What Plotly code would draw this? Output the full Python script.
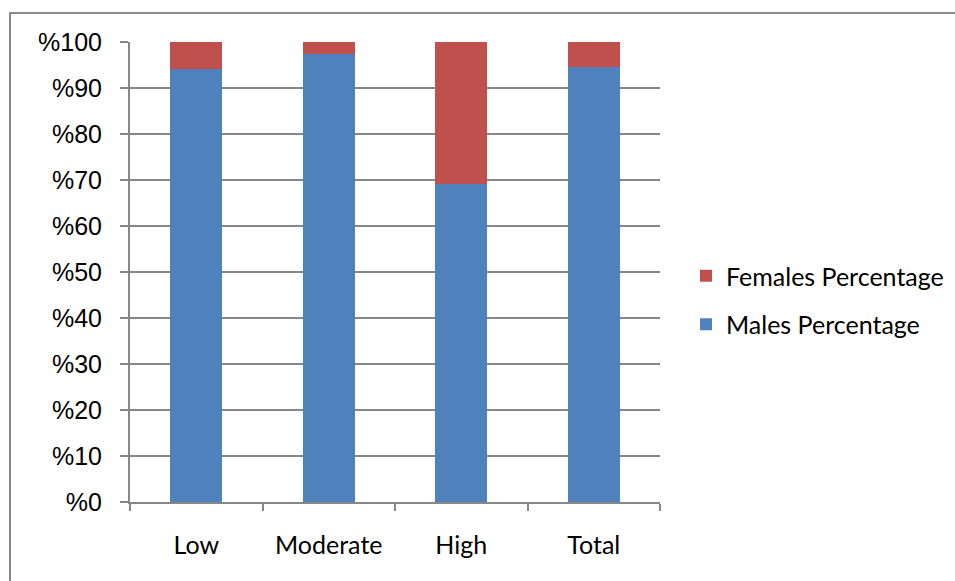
import plotly.graph_objects as go

# Stacked share of males and females per level
categories = ["Low", "Moderate", "High", "Total"]
males_pct = [94.1, 97.3, 69.1, 94.5]
females_pct = [5.9, 2.7, 30.9, 5.5]
y_ticks = [0, 10, 20, 30, 40, 50, 60, 70, 80, 90, 100]
y_tick_labels = ["%" + str(v) for v in y_ticks]

BLUE = "#4F81BD"
RED = "#C0504D"
GREY = "#878787"

W, H = 955, 581
L, T, B = 130, 42, 79
plot_right = 660
pw, ph = W - L, H - T - B  # paper spans from the left margin to the right edge

fig = go.Figure()
fig.add_trace(go.Bar(x=categories, y=males_pct, name="Males Percentage",
                     marker=dict(color=BLUE, line=dict(width=0)),
                     legendgroup="m", legendrank=2))
fig.add_trace(go.Bar(x=categories, y=females_pct, name="Females Percentage",
                     marker=dict(color=RED, line=dict(width=0)),
                     legendgroup="f", legendrank=1))

# outer chart frame (top and left edges visible)
fig.add_shape(type="rect", xref="paper", yref="paper",
              x0=(10 - L) / pw, x1=(W + 20 - L) / pw,
              y0=-(B + 20) / ph, y1=1 + (T - 13) / ph,
              line=dict(color=GREY, width=2), fillcolor="rgba(0,0,0,0)", layer="below")

fig.update_layout(
    width=W, height=H,
    margin=dict(l=L, r=0, t=T, b=B, pad=0),
    barmode="stack",
    bargap=0.605,
    paper_bgcolor="white", plot_bgcolor="white",
    showlegend=True,
    legend=dict(x=(686 - L) / pw, xanchor="left", y=(502 - 300) / ph, yanchor="middle",
                traceorder="grouped", tracegroupgap=13,
                font=dict(family="Lato, Open Sans, sans-serif", size=25, color="#000000"),
                bgcolor="rgba(0,0,0,0)"),
    xaxis=dict(domain=[0, (plot_right - L) / pw],
               showgrid=False, showline=True, linecolor=GREY, linewidth=2,
               ticks="outside", ticklen=7, tickwidth=1.5, tickcolor=GREY,
               tickson="boundaries", ticklabelstandoff=20,
               tickfont=dict(family="Lato, Open Sans, sans-serif", size=25, color="#000000")),
    yaxis=dict(range=[0, 100], tickvals=y_ticks, ticktext=y_tick_labels,
               showgrid=True, gridcolor=GREY, gridwidth=1.5,
               showline=True, linecolor=GREY, linewidth=2, zeroline=False,
               ticks="outside", ticklen=8, tickwidth=1.5, tickcolor=GREY,
               ticklabelstandoff=13,
               tickfont=dict(family="Liberation Sans, Arial, sans-serif", size=25, color="#000000")),
)

fig.write_html("out.html")
